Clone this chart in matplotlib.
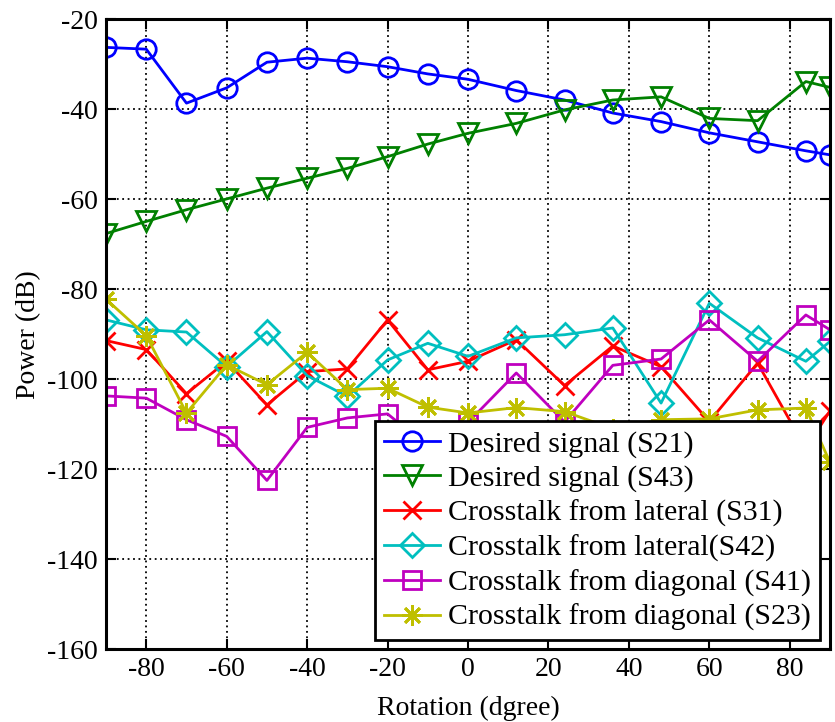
import numpy as np
import matplotlib
matplotlib.use('Agg')
import matplotlib.pyplot as plt

plt.rcParams['font.family'] = ['Liberation Serif', 'DejaVu Serif']
plt.rcParams['axes.unicode_minus'] = False

# Данные
rotation = [-90, -80, -70, -60, -50, -40, -30, -20, -10, 0, 12, 24, 36, 48, 60, 72, 84, 90]

s21 = [-26.2, -26.6, -38.6, -35.2, -29.5, -28.6, -29.4, -30.5, -32.1, -33.3,
       -35.8, -37.9, -40.8, -42.7, -45.2, -47.2, -49.2, -50.1]
s43 = [-67.6, -64.9, -62.3, -59.9, -57.5, -55.3, -53.1, -50.5, -47.7, -45.3,
       -43.1, -40.1, -37.9, -37.2, -42.0, -42.5, -33.8, -35.1]
s31 = [-91.4, -93.4, -103.2, -96.0, -105.7, -98.3, -97.7, -86.8, -97.9, -96.0,
       -91.2, -101.4, -92.6, -97.2, -109.4, -96.4, -115.5, -107.0]
s42 = [-86.8, -89.0, -89.5, -97.2, -89.4, -99.2, -103.8, -95.7, -92.0, -94.9,
       -90.8, -90.1, -88.6, -105.3, -83.1, -90.8, -96.0, -91.6]
s41 = [-103.7, -104.2, -109.0, -112.7, -122.5, -110.7, -108.6, -107.7, -115.0, -109.6,
       -98.6, -109.5, -96.9, -95.5, -86.8, -96.0, -85.7, -89.0]
s23 = [-82.2, -90.3, -107.5, -96.8, -101.2, -94.0, -102.3, -102.0, -106.2, -107.5,
       -106.3, -107.2, -111.0, -109.0, -108.8, -106.8, -106.4, -118.5]

labels = ['Desired signal (S21)', 'Desired signal (S43)',
          'Crosstalk from lateral (S31)', 'Crosstalk from lateral(S42)',
          'Crosstalk from diagonal (S41)', 'Crosstalk from diagonal (S23)']

fig = plt.figure(figsize=(8.35, 7.22), dpi=100)
ax = fig.add_axes([0.127, 0.101, 0.867, 0.872])

# (данные, цвет, маркер, размер маркера)
series = [
    (s21, (0, 0, 1), 'o', 14),
    (s43, (0, 0.5, 0), 'v', 15),
    (s31, (1, 0, 0), 'x', 13),
    (s42, (0, 0.75, 0.75), 'D', 12),
    (s41, (0.75, 0, 0.75), 's', 13),
    (s23, (0.75, 0.75, 0), (8, 2, 0), 15),  # звёздочка как в MATLAB
]
for (vals, col, mk, ms), lab in zip(series, labels):
    ax.plot(rotation, vals, '-', color=col, marker=mk, markersize=ms,
            markerfacecolor='none', markeredgecolor=col, markeredgewidth=2,
            linewidth=2, label=lab)

ax.set_xlim(-90, 90)
ax.set_ylim(-160, -20)
ax.set_xticks(np.arange(-80, 81, 20))
ax.set_yticks(np.arange(-160, -19, 20))
ax.grid(True, color='black', linestyle=(0, (1.0, 2.0)), linewidth=1.3)
ax.tick_params(direction='in', top=True, right=True, length=7, width=1.5,
               labelsize=20, pad=6)
for sp in ax.spines.values():
    sp.set_linewidth(2.2)

ax.set_xlabel('Rotation (dgree)', fontsize=20, labelpad=10)
ax.set_ylabel('Power (dB)', fontsize=20, labelpad=4)

leg = ax.legend(loc='lower right', bbox_to_anchor=(0.986, 0.014), borderaxespad=0,
                fontsize=21.5, frameon=True, fancybox=False, edgecolor='black',
                framealpha=1, handlelength=1.9, handletextpad=0.25,
                labelspacing=0.25, borderpad=0.3)
leg.get_frame().set_linewidth(2)

fig.savefig('out.png', dpi=100)
